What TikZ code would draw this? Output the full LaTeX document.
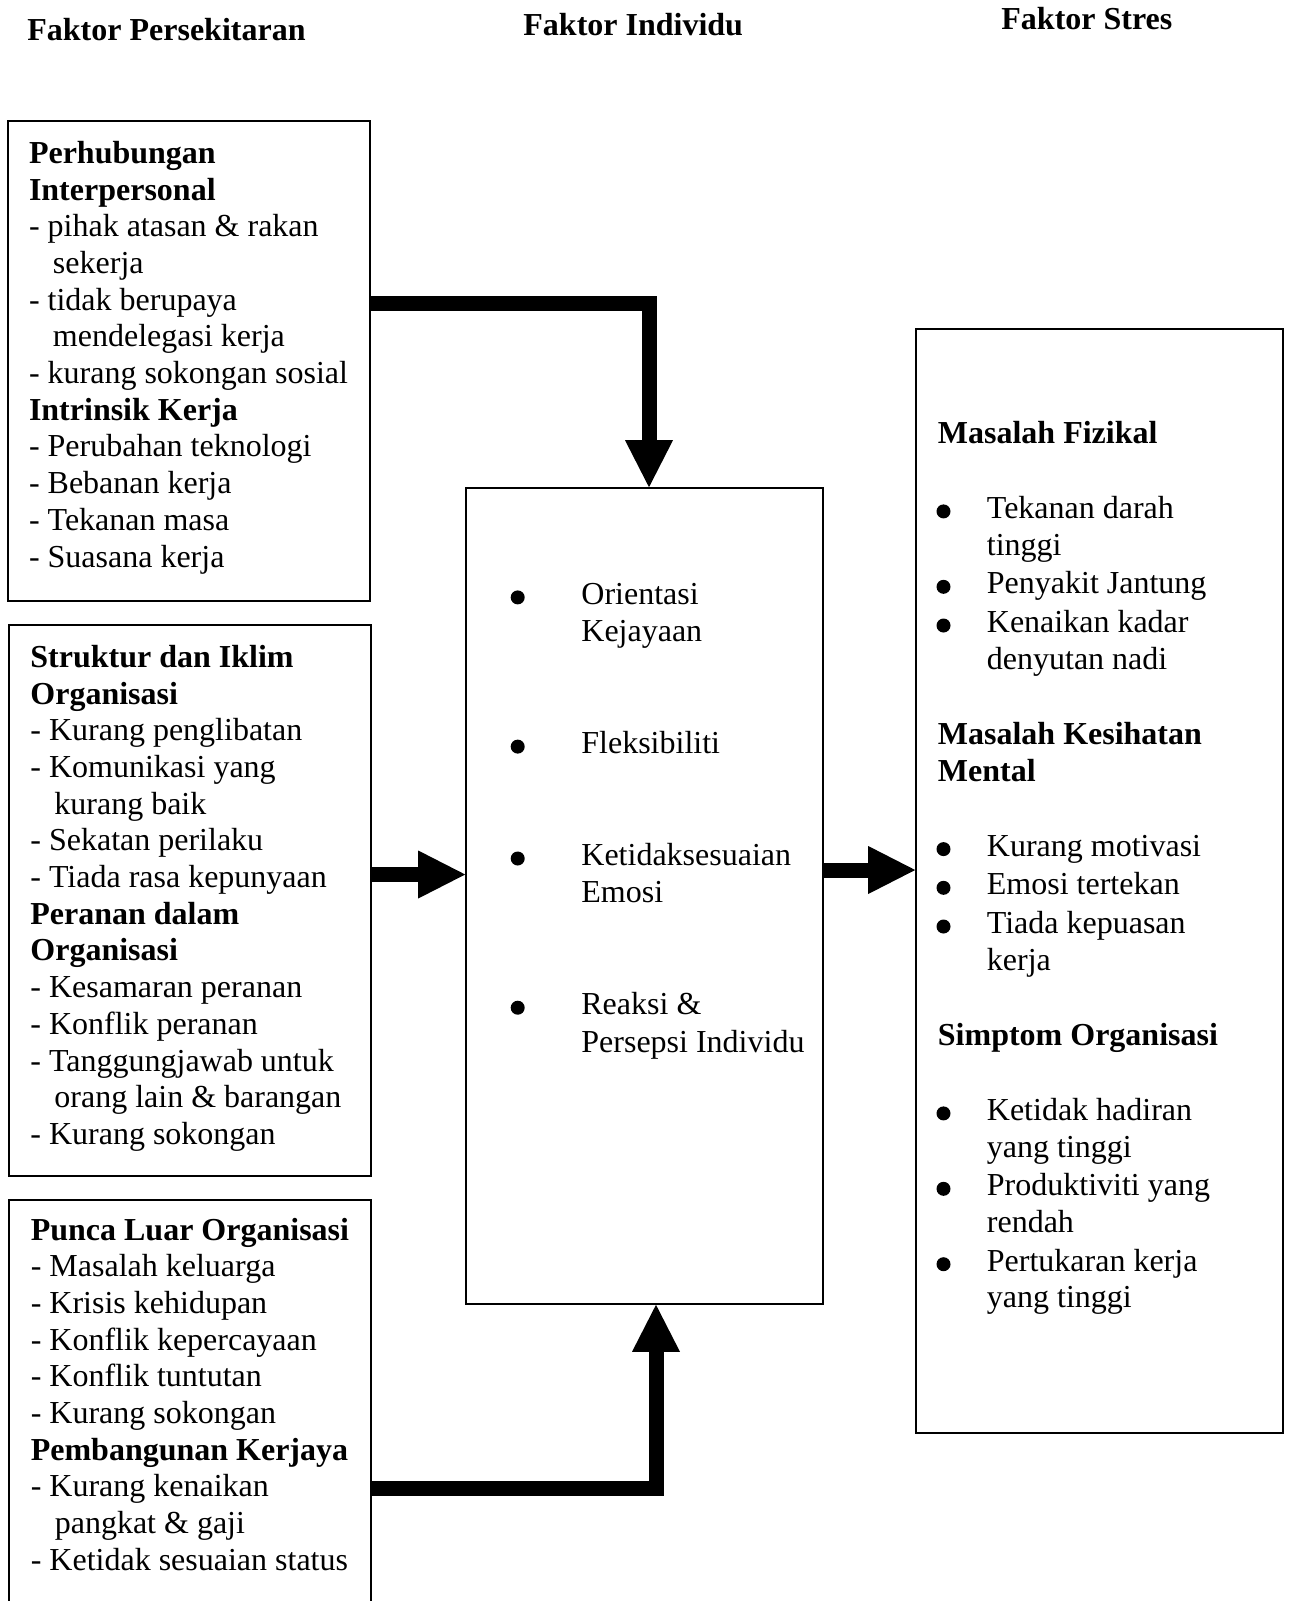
\documentclass[tikz,border=0pt]{standalone}
\usepackage{fontspec}
\setmainfont{Liberation Serif}
\usetikzlibrary{arrows.meta,fit}

\tikzset{
  frame/.style={draw, line width=0.8pt, inner sep=0pt},
  boxtext/.style={inner sep=0pt, text width=170pt, align=left,
    font=\fontsize{16}{18.35}\selectfont,
    execute at begin node={\spaceskip=0.25em\relax}},
  midtext/.style={boxtext, text width=152pt,
    font=\fontsize{16}{18.65}\selectfont},
  heading/.style={inner sep=0pt, font=\fontsize{16}{18.35}\selectfont\bfseries},
  flow/.style={line width=7.5pt, line join=miter,
    -{Triangle[width=24pt,length=23.5pt,line width=0pt]}}
}

\newcommand{\dashindent}{\hspace*{12pt}}
\newcommand{\midindent}{\hspace*{34.5pt}}
\newcommand{\stresindent}{\hspace*{24.5pt}}

\begin{document}
\begin{tikzpicture}[x=0.5pt, y=-0.5pt]
    \useasboundingbox (0,0) rectangle (1289,1601);

    % Column headings
    \node [heading, anchor=base west] (hPers) at (27,40) {Faktor Persekitaran};
    \node [heading, anchor=base west] (hIndiv) at (523,35) {Faktor Individu};
    \node [heading, anchor=base west] (hStres) at (1001,29) {Faktor Stres};

    % Boxes
    \node [frame, fit={(8,121) (370,601)}] (pers1) {};
    \node [frame, fit={(9,625) (371,1176)}] (pers2) {};
    \node [frame, fit={(9,1200) (371,1620)}] (pers3) {};
    \node [frame, fit={(466,488) (823,1304)}] (indiv) {};
    \node [frame, fit={(916,329) (1283,1433)}] (stres) {};

    % Environment factors
    \node [boxtext, anchor=base west] (pers1txt) at (28.6,163.3) {%
        \textbf{Perhubungan}\\
        \textbf{Interpersonal}\\
        - pihak atasan \& rakan\\
        \dashindent sekerja\\
        - tidak berupaya\\
        \dashindent mendelegasi kerja\\
        - kurang sokongan sosial\\
        \textbf{Intrinsik Kerja}\\
        - Perubahan teknologi\\
        - Bebanan kerja\\
        - Tekanan masa\\
        - Suasana kerja};

    \node [boxtext, anchor=base west] (pers2txt) at (30,667.3) {%
        \textbf{Struktur dan Iklim}\\
        \textbf{Organisasi}\\
        - Kurang penglibatan\\
        - Komunikasi yang\\
        \dashindent kurang baik\\
        - Sekatan perilaku\\
        - Tiada rasa kepunyaan\\
        \textbf{Peranan dalam}\\
        \textbf{Organisasi}\\
        - Kesamaran peranan\\
        - Konflik peranan\\
        - Tanggungjawab untuk\\
        \dashindent orang lain \& barangan\\
        - Kurang sokongan};

    \node [boxtext, anchor=base west] (pers3txt) at (30.4,1240) {%
        \textbf{Punca Luar Organisasi}\\
        - Masalah keluarga\\
        - Krisis kehidupan\\
        - Konflik kepercayaan\\
        - Konflik tuntutan\\
        - Kurang sokongan\\
        \textbf{Pembangunan Kerjaya}\\
        - Kurang kenaikan\\
        \dashindent pangkat \& gaji\\
        - Ketidak sesuaian status};

    % Individual factors
    \node [midtext, anchor=base west] (indivtxt) at (512,604.4) {%
        \midindent Orientasi\\
        \midindent Kejayaan\\[37.3pt]
        \midindent Fleksibiliti\\[37.3pt]
        \midindent Ketidaksesuaian\\
        \midindent Emosi\\[37.3pt]
        \midindent Reaksi \&\\
        \midindent Persepsi Individu};

    % Stress factors
    \node [boxtext, text width=165pt, anchor=base west] (strestxt) at (937.5,443.3) {%
        \textbf{Masalah Fizikal}\\[19.2pt]
        \stresindent Tekanan darah\\
        \stresindent tinggi\\[1pt]
        \stresindent Penyakit Jantung\\[1pt]
        \stresindent Kenaikan kadar\\
        \stresindent denyutan nadi\\[19.2pt]
        \textbf{Masalah Kesihatan}\\
        \textbf{Mental}\\[19.2pt]
        \stresindent Kurang motivasi\\[1pt]
        \stresindent Emosi tertekan\\[1pt]
        \stresindent Tiada kepuasan\\
        \stresindent kerja\\[19.2pt]
        \textbf{Simptom Organisasi}\\[19.2pt]
        \stresindent Ketidak hadiran\\
        \stresindent yang tinggi\\[1pt]
        \stresindent Produktiviti yang\\
        \stresindent rendah\\[1pt]
        \stresindent Pertukaran kerja\\
        \stresindent yang tinggi};

    % Bullets
    \foreach \y in {597.4,746.6,858.5,1007.7}
        \fill (517.7,\y) circle [radius=7];
    \foreach \y in {511.4,586.8,625.5,849.1,887.8,926.5,1113.4,1188.8,1264.2}
        \fill (943.5,\y) circle [radius=7];

    % Arrows
    \coordinate (turnTop) at (649,303);
    \coordinate (turnBot) at (656,1488);
    \coordinate (rowLeft) at (0,874.5);
    \coordinate (rowRight) at (0,870);

    \draw [flow] (turnTop -| pers1.east) -- (turnTop) -- (turnTop |- indiv.north);
    \draw [flow] (rowLeft -| pers2.east) -- (rowLeft -| indiv.west);
    \draw [flow] (turnBot -| pers3.east) -- (turnBot) -- (turnBot |- indiv.south);
    \draw [flow] (rowRight -| indiv.east) -- (rowRight -| stres.west);
\end{tikzpicture}
\end{document}
